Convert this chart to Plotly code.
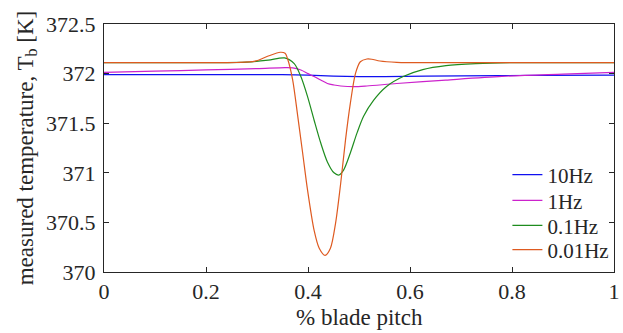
import plotly.graph_objects as go

# Blade pitch sweep (fraction of full pitch) and measured temperature T_b [K]
x_10hz = [0.0, 0.2, 0.35, 0.40, 0.45, 0.50, 0.55, 0.70, 0.85, 1.0]
t_10hz = [371.99, 371.99, 371.99, 371.985, 371.975, 371.97, 371.97, 371.978, 371.982, 371.985]

x_1hz = [0.0, 0.1, 0.2, 0.3, 0.355, 0.37, 0.386, 0.40, 0.412, 0.425, 0.438, 0.451,
         0.464, 0.49, 0.5155, 0.574, 0.67, 0.78, 0.9, 1.0]
t_1hz = [372.013, 372.025, 372.037, 372.05, 372.06, 372.058, 372.036, 372.0, 371.97,
         371.935, 371.90, 371.885, 371.875, 371.868, 371.875, 371.90, 371.935, 371.972,
         371.995, 372.013]

x_01hz = [0.0, 0.2, 0.28, 0.322, 0.354, 0.373, 0.386, 0.399, 0.412, 0.425, 0.438,
          0.451, 0.4606, 0.470, 0.483, 0.496, 0.509, 0.5285, 0.554, 0.5866, 0.625,
          0.6705, 0.729, 0.8, 1.0]
t_01hz = [372.11, 372.11, 372.115, 372.135, 372.158, 372.10, 371.97, 371.77, 371.53,
          371.30, 371.11, 371.00, 370.978, 371.03, 371.20, 371.40, 371.57, 371.73,
          371.87, 371.97, 372.04, 372.08, 372.10, 372.11, 372.11]

x_001hz = [0.0, 0.1, 0.2, 0.26, 0.296, 0.322, 0.3456, 0.355, 0.3605, 0.370, 0.380,
           0.3895, 0.399, 0.412, 0.422, 0.4335, 0.444, 0.454, 0.464, 0.4735, 0.483,
           0.493, 0.5026, 0.5155, 0.525, 0.541, 0.574, 0.65, 0.8, 1.0]
t_001hz = [372.11, 372.11, 372.11, 372.112, 372.125, 372.177, 372.215, 372.205,
           372.14, 371.935, 371.566, 371.20, 370.83, 370.42, 370.24, 370.168, 370.24,
           370.49, 370.89, 371.33, 371.70, 372.00, 372.12, 372.147, 372.145, 372.127,
           372.114, 372.11, 372.11, 372.11]

x_ticks = [0, 0.2, 0.4, 0.6, 0.8, 1]
x_ticktext = ["0", "0.2", "0.4", "0.6", "0.8", "1"]
y_ticks = [370, 370.5, 371, 371.5, 372, 372.5]
y_ticktext = ["370", "370.5", "371", "371.5", "372", "372.5"]

series = [
    ("10Hz", x_10hz, t_10hz, "#1010F0"),
    ("1Hz", x_1hz, t_1hz, "#CC22CC"),
    ("0.1Hz", x_01hz, t_01hz, "#1E8C1E"),
    ("0.01Hz", x_001hz, t_001hz, "#DE5A20"),
]

font_family = "Times New Roman, Liberation Serif, Times, serif"
ink = "#262626"

# one legend box per entry so the rows sit at a fixed pitch
legend_names = ["legend", "legend2", "legend3", "legend4"]
legend_y = [0.391, 0.2875, 0.1867, 0.0887]

fig = go.Figure()
for (name, xs, ys, color), lg in zip(series, legend_names):
    fig.add_trace(go.Scatter(
        x=xs, y=ys, name=name, mode="lines", legend=lg,
        line=dict(color=color, width=1.2, shape="spline", smoothing=0.8),
    ))

axis_common = dict(
    showgrid=False, zeroline=False,
    showline=True, linecolor=ink, linewidth=1, mirror="ticks",
    ticks="inside", ticklen=5, tickcolor=ink, tickwidth=1,
    ticklabeloverflow="allow",
    tickfont=dict(family=font_family, size=22, color=ink),
)

legend_style = dict(x=0.791, xanchor="left", yanchor="middle",
                    bgcolor="rgba(0,0,0,0)", borderwidth=0,
                    font=dict(family=font_family, size=21, color=ink))

layout_legends = {lg: dict(y=ly, **legend_style) for lg, ly in zip(legend_names, legend_y)}

fig.update_layout(
    width=623, height=333,
    margin=dict(l=104, r=3, t=24, b=61),
    paper_bgcolor="white", plot_bgcolor="white",
    font=dict(family=font_family, size=21, color=ink),
    xaxis=dict(range=[0, 1], tickvals=x_ticks, ticktext=x_ticktext, **axis_common),
    yaxis=dict(range=[370, 372.5], tickvals=y_ticks, ticktext=y_ticktext,
               ticklabelstandoff=3,
               title=dict(text="measured temperature, T<sub>b</sub> [K]", standoff=6,
                          font=dict(family=font_family, size=23, color=ink)),
               **axis_common),
    annotations=[dict(
        text="% blade pitch", x=0.5, y=-0.183, xref="paper", yref="paper",
        xanchor="center", yanchor="middle", showarrow=False,
        font=dict(family=font_family, size=23, color=ink),
    )],
    showlegend=True,
    **layout_legends,
)

fig.write_html("out.html")
